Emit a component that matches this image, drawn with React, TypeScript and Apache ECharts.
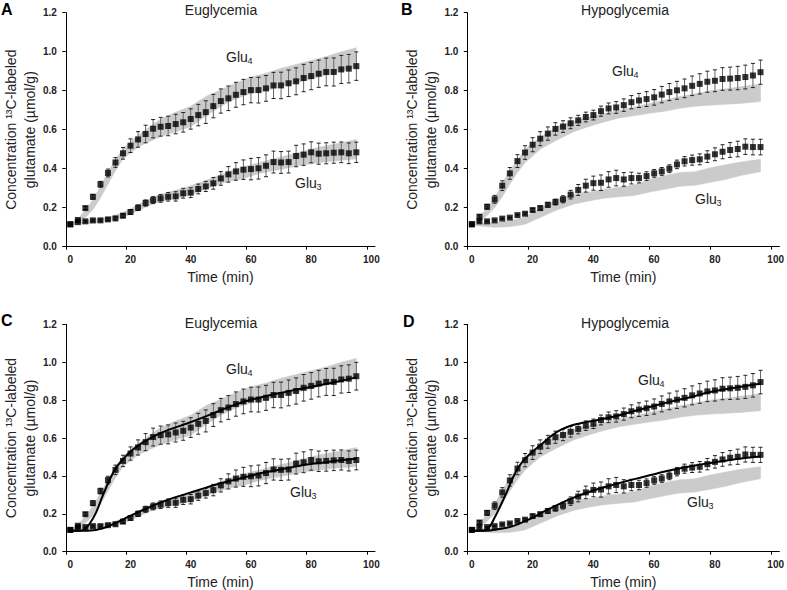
import React, { useEffect, useRef } from "react";
import * as echarts from "echarts";

// ---- sampling times (min) ----
const TIMES = [1.5, 4, 6.5, 9, 11.5, 14, 16.5, 19, 21.5, 24, 26.5, 29, 31.5, 34, 36.5, 39, 41.5, 44, 46.5, 49, 51.5, 54, 56.5, 59, 61.5, 64, 66.5, 69, 71.5, 74, 76.5, 79, 81.5, 84, 86.5, 89, 91.5, 94, 96.5];

// ---- Euglycemia measured data ----
const EU_GLU4 = [0.115, 0.137, 0.198, 0.256, 0.32, 0.378, 0.432, 0.479, 0.518, 0.55, 0.578, 0.605, 0.615, 0.619, 0.629, 0.638, 0.655, 0.675, 0.69, 0.721, 0.747, 0.761, 0.779, 0.793, 0.803, 0.803, 0.812, 0.827, 0.827, 0.838, 0.848, 0.865, 0.875, 0.887, 0.896, 0.896, 0.909, 0.913, 0.926];
const EU_GLU4_ERR = [0, 0.005, 0.008, 0.012, 0.015, 0.02, 0.025, 0.03, 0.035, 0.04, 0.045, 0.047, 0.048, 0.05, 0.05, 0.05, 0.052, 0.055, 0.058, 0.06, 0.062, 0.063, 0.064, 0.065, 0.065, 0.066, 0.066, 0.067, 0.068, 0.068, 0.069, 0.07, 0.07, 0.07, 0.071, 0.072, 0.072, 0.073, 0.073];
const EU_GLU3 = [0.115, 0.126, 0.13, 0.135, 0.135, 0.14, 0.145, 0.159, 0.178, 0.2, 0.224, 0.239, 0.248, 0.256, 0.258, 0.274, 0.277, 0.296, 0.309, 0.325, 0.35, 0.371, 0.386, 0.395, 0.398, 0.402, 0.415, 0.434, 0.432, 0.434, 0.465, 0.472, 0.484, 0.477, 0.479, 0.482, 0.484, 0.479, 0.484];
const EU_GLU3_ERR = [0, 0.003, 0.004, 0.005, 0.005, 0.006, 0.008, 0.01, 0.012, 0.014, 0.016, 0.018, 0.02, 0.022, 0.024, 0.025, 0.025, 0.025, 0.026, 0.03, 0.035, 0.04, 0.045, 0.05, 0.055, 0.055, 0.056, 0.056, 0.056, 0.056, 0.055, 0.055, 0.054, 0.054, 0.054, 0.054, 0.053, 0.053, 0.052];

// ---- Hypoglycemia measured data ----
const HY_GLU4 = [0.115, 0.154, 0.205, 0.243, 0.313, 0.376, 0.439, 0.483, 0.523, 0.554, 0.58, 0.604, 0.616, 0.633, 0.648, 0.665, 0.675, 0.695, 0.709, 0.714, 0.726, 0.741, 0.75, 0.757, 0.766, 0.78, 0.793, 0.802, 0.812, 0.825, 0.835, 0.846, 0.851, 0.86, 0.862, 0.865, 0.87, 0.878, 0.895];
const HY_GLU4_ERR = [0, 0.01, 0.012, 0.02, 0.025, 0.03, 0.033, 0.035, 0.036, 0.036, 0.034, 0.032, 0.03, 0.028, 0.026, 0.025, 0.025, 0.026, 0.028, 0.03, 0.032, 0.034, 0.036, 0.038, 0.04, 0.042, 0.044, 0.046, 0.048, 0.05, 0.052, 0.054, 0.056, 0.058, 0.059, 0.06, 0.061, 0.062, 0.062];
const HY_GLU3 = [0.115, 0.13, 0.13, 0.135, 0.144, 0.149, 0.162, 0.169, 0.188, 0.198, 0.215, 0.229, 0.243, 0.267, 0.291, 0.313, 0.326, 0.328, 0.345, 0.352, 0.345, 0.352, 0.352, 0.362, 0.376, 0.386, 0.4, 0.422, 0.438, 0.444, 0.448, 0.462, 0.474, 0.487, 0.496, 0.501, 0.513, 0.511, 0.511];
const HY_GLU3_ERR = [0, 0.005, 0.003, 0.003, 0.003, 0.003, 0.004, 0.005, 0.008, 0.01, 0.012, 0.015, 0.018, 0.022, 0.028, 0.033, 0.036, 0.04, 0.04, 0.04, 0.035, 0.03, 0.025, 0.022, 0.02, 0.02, 0.02, 0.022, 0.024, 0.026, 0.028, 0.03, 0.033, 0.036, 0.038, 0.04, 0.04, 0.04, 0.04];

// ---- grey bands (simulation range) ----
const EU_GLU4_BAND_T = [1.5, 4, 6.5, 9, 11.5, 14, 16.5, 19, 21.5, 24, 26.5, 31.5, 36.5, 41.5, 46.5, 51.5, 56.5, 61.5, 66.5, 71.5, 76.5, 81.5, 86.5, 91.5, 96.5];
const EU_GLU4_BAND_LO = [0.11, 0.12, 0.15, 0.19, 0.25, 0.32, 0.39, 0.45, 0.48, 0.51, 0.53, 0.565, 0.59, 0.615, 0.67, 0.72, 0.76, 0.785, 0.8, 0.82, 0.84, 0.86, 0.88, 0.9, 0.92];
const EU_GLU4_BAND_HI = [0.115, 0.14, 0.19, 0.24, 0.31, 0.38, 0.45, 0.5, 0.54, 0.57, 0.6, 0.655, 0.69, 0.72, 0.77, 0.805, 0.84, 0.87, 0.89, 0.915, 0.935, 0.955, 0.975, 1.0, 1.02];
const EU_GLU3_BAND_T = [1.5, 4, 9, 14, 19, 24, 29, 34, 39, 44, 49, 54, 59, 64, 69, 74, 79, 84, 89, 96.5];
const EU_GLU3_BAND_LO = [0.11, 0.115, 0.12, 0.13, 0.15, 0.185, 0.22, 0.24, 0.255, 0.28, 0.31, 0.335, 0.35, 0.375, 0.39, 0.405, 0.42, 0.43, 0.44, 0.45];
const EU_GLU3_BAND_HI = [0.115, 0.13, 0.14, 0.15, 0.175, 0.215, 0.255, 0.28, 0.3, 0.325, 0.355, 0.385, 0.41, 0.43, 0.45, 0.47, 0.49, 0.51, 0.525, 0.55];
const HY_GLU4_BAND_T = [1.5, 4, 6.5, 9, 11.5, 14, 16.5, 19, 21.5, 24, 29.5, 35, 40, 45, 50, 55, 60, 65, 70, 75, 80, 85, 90, 96.5];
const HY_GLU4_BAND_LO = [0.11, 0.13, 0.16, 0.2, 0.256, 0.32, 0.38, 0.43, 0.465, 0.5, 0.547, 0.59, 0.616, 0.64, 0.66, 0.672, 0.684, 0.695, 0.71, 0.72, 0.726, 0.73, 0.735, 0.744];
const HY_GLU4_BAND_HI = [0.115, 0.15, 0.2, 0.25, 0.325, 0.39, 0.445, 0.5, 0.53, 0.56, 0.616, 0.645, 0.664, 0.683, 0.7, 0.717, 0.735, 0.752, 0.77, 0.785, 0.8, 0.81, 0.82, 0.835];
const HY_GLU3_BAND_T = [1.5, 5, 9, 14, 19, 24, 29.5, 35, 40, 45, 50, 55, 60, 65, 70, 75, 80, 85, 90, 96.5];
const HY_GLU3_BAND_LO = [0.11, 0.105, 0.1, 0.102, 0.115, 0.15, 0.188, 0.218, 0.235, 0.248, 0.256, 0.262, 0.28, 0.295, 0.31, 0.315, 0.33, 0.345, 0.365, 0.385];
const HY_GLU3_BAND_HI = [0.115, 0.12, 0.123, 0.132, 0.152, 0.195, 0.245, 0.27, 0.28, 0.295, 0.305, 0.318, 0.345, 0.365, 0.38, 0.385, 0.405, 0.42, 0.435, 0.448];

// ---- model fits (panels C, D) ----
const EU_GLU4_FIT_T = [1, 4, 6, 8, 10, 12, 14, 16, 18, 20, 22, 25, 30, 35, 40, 45, 50, 55, 60, 65, 70, 75, 80, 85, 90, 96.5];
const EU_GLU4_FIT = [0.11, 0.11, 0.115, 0.15, 0.205, 0.285, 0.36, 0.425, 0.47, 0.505, 0.535, 0.57, 0.615, 0.648, 0.675, 0.705, 0.737, 0.768, 0.795, 0.815, 0.833, 0.85, 0.865, 0.881, 0.897, 0.92];
const EU_GLU3_FIT_T = [1, 5, 10, 12, 15, 18, 20, 25, 30, 35, 40, 45, 50, 55, 60, 65, 70, 75, 80, 85, 90, 96.5];
const EU_GLU3_FIT = [0.11, 0.11, 0.115, 0.122, 0.14, 0.162, 0.178, 0.215, 0.25, 0.28, 0.305, 0.33, 0.355, 0.375, 0.395, 0.415, 0.43, 0.445, 0.46, 0.47, 0.48, 0.49];
const HY_GLU4_FIT_T = [1, 5, 7, 9, 11, 13, 15, 17, 19, 22, 25, 28, 31, 34, 38, 43, 48, 54, 60, 67, 74, 80, 87, 93, 96.5];
const HY_GLU4_FIT = [0.11, 0.11, 0.125, 0.18, 0.245, 0.315, 0.39, 0.45, 0.49, 0.535, 0.575, 0.615, 0.645, 0.665, 0.68, 0.695, 0.712, 0.738, 0.764, 0.792, 0.818, 0.843, 0.862, 0.878, 0.886];
const HY_GLU3_FIT_T = [1, 6, 10, 15, 20, 25, 30, 35, 40, 45, 50, 55, 60, 65, 70, 75, 80, 85, 90, 96.5];
const HY_GLU3_FIT = [0.11, 0.11, 0.118, 0.135, 0.168, 0.21, 0.25, 0.285, 0.315, 0.34, 0.362, 0.383, 0.403, 0.423, 0.44, 0.455, 0.468, 0.48, 0.492, 0.503];

const X_TICKS = [0, 20, 40, 60, 80, 100];
const TITLES = ["Euglycemia", "Hypoglycemia", "Euglycemia", "Hypoglycemia"];
const LETTERS = ["A", "B", "C", "D"];
const Y_NAME = "Concentration \u00b9\u00b3C-labeled\nglutamate (\u00b5mol/g)";

const FONT = "'Liberation Sans', Arial, sans-serif";
const GREY = "#cbcbcb";

const GRIDS = [
  { left: 62.7, top: 12.7, width: 312.3, height: 234 },
  { left: 467.3, top: 12.7, width: 312.7, height: 234 },
  { left: 62.7, top: 324.3, width: 312.3, height: 227.4 },
  { left: 467.3, top: 324.3, width: 312.7, height: 227.4 },
];

function bandSeries(gi: number, T: number[], LO: number[], HI: number[]) {
  return {
    type: "custom",
    xAxisIndex: gi,
    yAxisIndex: gi,
    z: 1,
    silent: true,
    data: T.map((t, i) => [t, LO[i], HI[i]]),
    encode: { x: 0, y: [1, 2] },
    renderItem: (params: any, api: any) => {
      if (params.dataIndex !== 0) return null;
      const up = T.map((t, i) => api.coord([t, HI[i]]));
      const dn = T.map((t, i) => api.coord([t, LO[i]])).reverse();
      return {
        type: "polygon",
        shape: { points: up.concat(dn) },
        style: { fill: GREY, stroke: GREY, lineWidth: 0.5 },
      };
    },
  };
}

function errSeries(gi: number, V: number[], E: number[]) {
  return {
    type: "custom",
    xAxisIndex: gi,
    yAxisIndex: gi,
    z: 2,
    silent: true,
    data: TIMES.map((t, i) => [t, V[i], E[i]]),
    encode: { x: 0, y: 1 },
    renderItem: (params: any, api: any) => {
      const t = api.value(0);
      const v = api.value(1);
      const e = api.value(2);
      if (!e) return null;
      const a = api.coord([t, v + e]);
      const b = api.coord([t, v - e]);
      const w = 2;
      return {
        type: "group",
        children: [
          { type: "line", shape: { x1: a[0], y1: a[1], x2: b[0], y2: b[1] }, style: { stroke: "#666", lineWidth: 1 } },
          { type: "line", shape: { x1: a[0] - w, y1: a[1], x2: a[0] + w, y2: a[1] }, style: { stroke: "#222", lineWidth: 1 } },
          { type: "line", shape: { x1: b[0] - w, y1: b[1], x2: b[0] + w, y2: b[1] }, style: { stroke: "#222", lineWidth: 1 } },
        ],
      };
    },
  };
}

function pointSeries(gi: number, name: string, V: number[]) {
  return {
    type: "scatter",
    name,
    xAxisIndex: gi,
    yAxisIndex: gi,
    z: 3,
    symbol: "rect",
    symbolSize: 6,
    itemStyle: { color: "#000" },
    data: TIMES.map((t, i) => [t, V[i]]),
  };
}

function fitSeries(gi: number, T: number[], V: number[]) {
  return {
    type: "line",
    xAxisIndex: gi,
    yAxisIndex: gi,
    z: 4,
    smooth: 0.4,
    showSymbol: false,
    silent: true,
    lineStyle: { color: "#000", width: 2 },
    data: T.map((t, i) => [t, V[i]]),
  };
}

function gluLabel(x: number, y: number, sub: string) {
  return {
    type: "group",
    children: [
      { type: "text", x, y, style: { text: "Glu", fontSize: 14, fontFamily: FONT, fill: "#222", verticalAlign: "middle", align: "left" } },
      { type: "text", x: x + 21.5, y: y + 4, style: { text: sub, fontSize: 9, fontFamily: FONT, fill: "#222", verticalAlign: "middle", align: "left" } },
    ],
  };
}

export default function App() {
  const ref = useRef<HTMLDivElement>(null);
  useEffect(() => {
    if (!ref.current) return;
    const chart = echarts.init(ref.current, undefined, { renderer: "svg" });

    const xAxis = GRIDS.map((_, i) => ({
      type: "value",
      gridIndex: i,
      min: 0,
      max: 102.7,
      name: "Time (min)",
      nameLocation: "middle",
      nameGap: 23,
      nameTextStyle: { fontSize: 14, fontFamily: FONT, color: "#222" },
      axisLine: { onZero: false, lineStyle: { color: "#000", width: 1 } },
      axisTick: { show: true, length: 3, customValues: X_TICKS, lineStyle: { color: "#000" } },
      axisLabel: {
        customValues: X_TICKS,
        fontSize: 10,
        fontWeight: "bold",
        fontFamily: FONT,
        color: "#222",
        margin: 8,
        padding: [0, 0, 0, 9],
      },
      splitLine: { show: false },
    }));

    const yAxis = GRIDS.map((_, i) => ({
      type: "value",
      gridIndex: i,
      min: 0,
      max: 1.2,
      interval: 0.2,
      name: Y_NAME,
      nameLocation: "middle",
      nameGap: 26,
      nameTextStyle: { fontSize: 14, lineHeight: 19, fontFamily: FONT, color: "#222" },
      axisLine: { show: true, onZero: false, lineStyle: { color: "#000", width: 1 } },
      axisTick: { show: true, length: 3.5, lineStyle: { color: "#000" } },
      axisLabel: {
        fontSize: 10,
        fontWeight: "bold",
        fontFamily: FONT,
        color: "#222",
        margin: 9,
        formatter: (v: number) => v.toFixed(1),
      },
      splitLine: { show: false },
    }));

    const series: any[] = [];
    const panels = [
      { g4: EU_GLU4, e4: EU_GLU4_ERR, g3: EU_GLU3, e3: EU_GLU3_ERR, b4: [EU_GLU4_BAND_T, EU_GLU4_BAND_LO, EU_GLU4_BAND_HI], b3: [EU_GLU3_BAND_T, EU_GLU3_BAND_LO, EU_GLU3_BAND_HI], fit: null as any },
      { g4: HY_GLU4, e4: HY_GLU4_ERR, g3: HY_GLU3, e3: HY_GLU3_ERR, b4: [HY_GLU4_BAND_T, HY_GLU4_BAND_LO, HY_GLU4_BAND_HI], b3: [HY_GLU3_BAND_T, HY_GLU3_BAND_LO, HY_GLU3_BAND_HI], fit: null as any },
      { g4: EU_GLU4, e4: EU_GLU4_ERR, g3: EU_GLU3, e3: EU_GLU3_ERR, b4: [EU_GLU4_BAND_T, EU_GLU4_BAND_LO, EU_GLU4_BAND_HI], b3: [EU_GLU3_BAND_T, EU_GLU3_BAND_LO, EU_GLU3_BAND_HI], fit: [[EU_GLU4_FIT_T, EU_GLU4_FIT], [EU_GLU3_FIT_T, EU_GLU3_FIT]] },
      { g4: HY_GLU4, e4: HY_GLU4_ERR, g3: HY_GLU3, e3: HY_GLU3_ERR, b4: [HY_GLU4_BAND_T, HY_GLU4_BAND_LO, HY_GLU4_BAND_HI], b3: [HY_GLU3_BAND_T, HY_GLU3_BAND_LO, HY_GLU3_BAND_HI], fit: [[HY_GLU4_FIT_T, HY_GLU4_FIT], [HY_GLU3_FIT_T, HY_GLU3_FIT]] },
    ];
    panels.forEach((p, gi) => {
      series.push(bandSeries(gi, p.b4[0], p.b4[1], p.b4[2]));
      series.push(bandSeries(gi, p.b3[0], p.b3[1], p.b3[2]));
      series.push(errSeries(gi, p.g4, p.e4));
      series.push(errSeries(gi, p.g3, p.e3));
      series.push(pointSeries(gi, "Glu4", p.g4));
      series.push(pointSeries(gi, "Glu3", p.g3));
      if (p.fit) {
        series.push(fitSeries(gi, p.fit[0][0], p.fit[0][1]));
        series.push(fitSeries(gi, p.fit[1][0], p.fit[1][1]));
      }
    });

    const titlePos = [
      [221, 9.5],
      [625, 9.5],
      [221, 323],
      [625, 323],
    ];
    const letterPos = [
      [1, 9],
      [401, 9],
      [1, 320],
      [403, 321],
    ];
    const gluPos = [
      [[226, 57], [295, 183]],
      [[612, 71], [695, 199]],
      [[226, 369], [290, 492]],
      [[638, 380], [687, 502]],
    ];

    const graphic: any[] = [];
    TITLES.forEach((t, i) => {
      graphic.push({
        type: "text",
        x: titlePos[i][0],
        y: titlePos[i][1],
        style: { text: t, fontSize: 14, fontFamily: FONT, fill: "#222", align: "center", verticalAlign: "middle" },
      });
      graphic.push({
        type: "text",
        x: letterPos[i][0],
        y: letterPos[i][1],
        style: { text: LETTERS[i], fontSize: 16, fontWeight: "bold", fontFamily: FONT, fill: "#000", align: "left", verticalAlign: "middle" },
      });
      graphic.push(gluLabel(gluPos[i][0][0], gluPos[i][0][1], "4"));
      graphic.push(gluLabel(gluPos[i][1][0], gluPos[i][1][1], "3"));
    });

    chart.setOption({
      animation: false,
      backgroundColor: "#fff",
      grid: GRIDS.map((g) => ({ ...g, containLabel: false })),
      xAxis,
      yAxis,
      series,
      graphic,
    });
    return () => chart.dispose();
  }, []);
  return <div ref={ref} style={{ position: "absolute", left: 0, top: 0, width: 787, height: 590 }} />;
}
